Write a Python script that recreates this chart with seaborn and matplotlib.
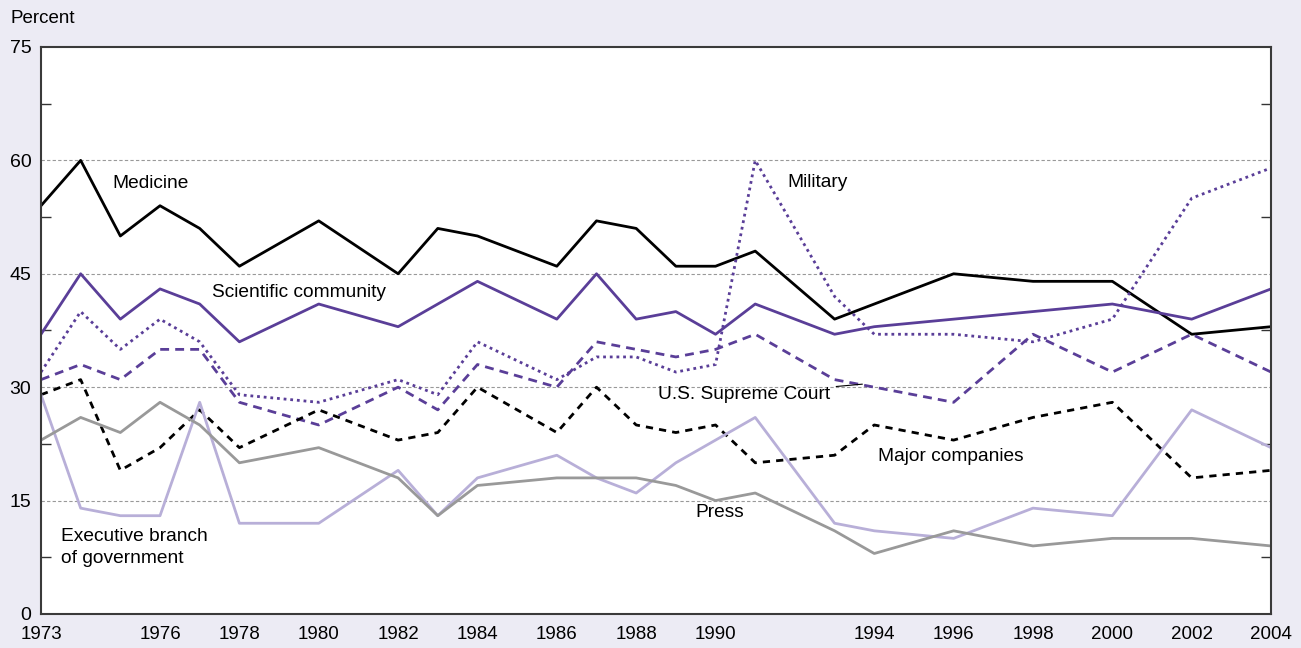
import pandas as pd
import matplotlib
matplotlib.use("Agg")
import matplotlib.pyplot as plt
import seaborn as sns

years = [1973, 1974, 1975, 1976, 1977, 1978, 1980, 1982, 1983, 1984, 1986, 1987,
         1988, 1989, 1990, 1991, 1993, 1994, 1996, 1998, 2000, 2002, 2004]
labeled_years = [1973, 1976, 1978, 1980, 1982, 1984, 1986, 1988, 1990,
                 1994, 1996, 1998, 2000, 2002, 2004]

medicine = [54, 60, 50, 54, 51, 46, 52, 45, 51, 50, 46, 52, 51, 46, 46, 48, 39, 41, 45, 44, 44, 37, 38]
science = [37, 45, 39, 43, 41, 36, 41, 38, 41, 44, 39, 45, 39, 40, 37, 41, 37, 38, 39, 40, 41, 39, 43]
military = [32, 40, 35, 39, 36, 29, 28, 31, 29, 36, 31, 34, 34, 32, 33, 60, 42, 37, 37, 36, 39, 55, 59]
supreme_court = [31, 33, 31, 35, 35, 28, 25, 30, 27, 33, 30, 36, 35, 34, 35, 37, 31, 30, 28, 37, 32, 37, 32]
companies = [29, 31, 19, 22, 27, 22, 27, 23, 24, 30, 24, 30, 25, 24, 25, 20, 21, 25, 23, 26, 28, 18, 19]
executive = [29, 14, 13, 13, 28, 12, 12, 19, 13, 18, 21, 18, 16, 20, 23, 26, 12, 11, 10, 14, 13, 27, 22]
press = [23, 26, 24, 28, 25, 20, 22, 18, 13, 17, 18, 18, 18, 17, 15, 16, 11, 8, 11, 9, 10, 10, 9]

series = {
    "Medicine": medicine,
    "Scientific community": science,
    "Military": military,
    "U.S. Supreme Court": supreme_court,
    "Major companies": companies,
    "Executive branch of government": executive,
    "Press": press,
}

df = pd.concat(
    [pd.DataFrame({"year": years, "pct": v, "inst": k}) for k, v in series.items()],
    ignore_index=True,
)

purple = "#5a3e98"
palette = {
    "Medicine": "black",
    "Scientific community": purple,
    "Military": purple,
    "U.S. Supreme Court": purple,
    "Major companies": "black",
    "Executive branch of government": "#b8afd8",
    "Press": "#999999",
}
dashes = {
    "Medicine": "",
    "Scientific community": "",
    "Military": (1, 1.4),
    "U.S. Supreme Court": (3.2, 2.2),
    "Major companies": (2.6, 2.2),
    "Executive branch of government": "",
    "Press": "",
}

sns.set_theme(style="white")
plt.rcParams["font.family"] = ["Liberation Sans", "DejaVu Sans"]
plt.rcParams["text.color"] = "black"

bg = "#ecebf4"
fig = plt.figure(figsize=(13.01, 6.48), dpi=100, facecolor=bg)
ax = fig.add_axes([0.0315, 0.0525, 0.9455, 0.875])
ax.set_facecolor("white")

sns.lineplot(data=df, x="year", y="pct", hue="inst", style="inst",
             palette=palette, dashes=dashes, linewidth=2, legend=False, ax=ax)

ax.set_xlim(1973, 2004)
ax.set_ylim(0, 75)
for g in [15, 30, 45, 60]:
    ax.axhline(g, color="#999999", lw=0.8, ls=(0, (3, 2)), zorder=0)

ax.set_yticks([0, 15, 30, 45, 60, 75])
ax.set_yticks([7.5, 22.5, 37.5, 52.5, 67.5], minor=True)
ax.set_xticks(years)
ax.set_xticklabels([str(y) if y in labeled_years else "" for y in years])
ax.tick_params(axis="x", direction="in", length=8, width=1, color="#333333",
               labelsize=13.5, labelcolor="black", pad=9)
ax.tick_params(axis="y", which="major", length=0, labelsize=14,
               labelcolor="black", pad=7)
ax.tick_params(axis="y", which="minor", direction="in", length=7, width=1,
               color="#333333", left=True, right=True)
ax.set_xlabel("")
ax.set_ylabel("")
for s in ax.spines.values():
    s.set_visible(True)
    s.set_color("#3a3a3a")
    s.set_linewidth(1.5)

fs = 13.8
ax.text(1974.8, 56.9, "Medicine", fontsize=fs, va="center")
ax.text(1977.3, 42.5, "Scientific community", fontsize=fs, va="center")
ax.text(1991.8, 57.1, "Military", fontsize=fs, va="center")
ax.annotate("U.S. Supreme Court", xy=(1993.7, 30.4), xytext=(1988.55, 29),
            fontsize=fs, va="center",
            arrowprops=dict(arrowstyle="-", lw=0.8, color="black",
                            shrinkA=2, shrinkB=0))
ax.text(1994.1, 20.8, "Major companies", fontsize=fs, va="center")
ax.text(1989.5, 13.4, "Press", fontsize=fs, va="center")
ax.text(1973.5, 8.8, "Executive branch\nof government", fontsize=fs,
        va="center", linespacing=1.38)

fig.text(0.008, 0.972, "Percent", fontsize=13.5, va="center")

fig.savefig("out.png", dpi=100, facecolor=bg)
